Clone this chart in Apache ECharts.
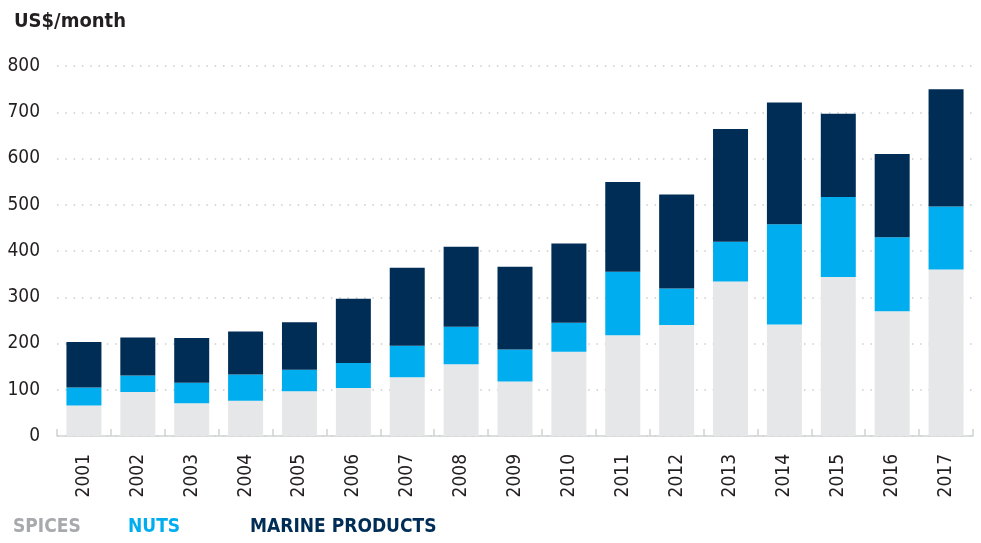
<!DOCTYPE html>
<html>
<head>
<meta charset="utf-8">
<script src="https://cdn.jsdelivr.net/npm/echarts@6/dist/echarts.min.js"></script>
<style>
html,body{margin:0;padding:0;background:#fff;}
#chart{width:981px;height:543px;}
</style>
</head>
<body>
<div id="chart"></div>
<script>
const years = ['2001','2002','2003','2004','2005','2006','2007','2008','2009','2010','2011','2012','2013','2014','2015','2016','2017'];
const spices = [66, 95, 71, 76, 97, 104, 127, 155, 118, 182, 218, 240, 334, 241, 344, 270, 360];
const nuts = [39, 36, 44, 57, 46, 54, 68, 81, 69, 63, 137, 79, 86, 217, 173, 160, 136];
const marine = [98, 82, 97, 93, 103, 139, 169, 173, 179, 171, 194, 203, 244, 263, 180, 180, 254];
const yTicks = [0, 100, 200, 300, 400, 500, 600, 700, 800];

const FONT = "'Liberation Sans Narrow', 'DejaVu Sans Condensed', 'Liberation Sans', sans-serif";
const C_SPICE = '#e6e7e8', C_NUTS = '#00aeef', C_MARINE = '#002d56';

const chart = echarts.init(document.getElementById('chart'));
function legendFor(name, color, left) {
  return {
    left: left, top: 518, orient: 'horizontal',
    data: [{name: name, icon: 'none'}],
    itemWidth: 0, itemHeight: 0, itemGap: 0, padding: 0,
    selectedMode: false,
    textStyle: {color: color, fontFamily: FONT, fontWeight: 'bold', fontSize: 19, padding: 0}
  };
}
chart.setOption({
  animation: false,
  title: {
    text: 'US$/month', left: 9, top: 7,
    textStyle: {fontFamily: FONT, fontWeight: 'bold', fontSize: 20, color: '#231f20'}
  },
  legend: [
    legendFor('SPICES', '#a7a9ac', 8),
    legendFor('NUTS', C_NUTS, 123),
    legendFor('MARINE PRODUCTS', C_MARINE, 245)
  ],
  grid: {left: 57, right: 8, top: 66, bottom: 107, containLabel: false},
  xAxis: {
    type: 'category', data: years,
    axisLine: {lineStyle: {color: '#d1d3d4', width: 1.5}},
    axisTick: {show: true, inside: true, length: 7, lineStyle: {color: '#d1d3d4', width: 1.5}},
    axisLabel: {rotate: 90, margin: 18, fontFamily: FONT, fontSize: 19, color: '#231f20'}
  },
  yAxis: {
    type: 'value', min: yTicks[0], max: yTicks[yTicks.length - 1], interval: 100,
    axisLine: {show: false}, axisTick: {show: false},
    axisLabel: {margin: 17, fontFamily: FONT, fontSize: 19, color: '#231f20',
      formatter: v => yTicks.includes(v) ? String(v) : ''},
    splitLine: {show: true, lineStyle: {color: '#c9cbcd', type: [1.5, 6.8], width: 1.5}}
  },
  series: [
    {name: 'SPICES', type: 'bar', stack: 't', data: spices, barWidth: 35, itemStyle: {color: C_SPICE}},
    {name: 'NUTS', type: 'bar', stack: 't', data: nuts, barWidth: 35, itemStyle: {color: C_NUTS}},
    {name: 'MARINE PRODUCTS', type: 'bar', stack: 't', data: marine, barWidth: 35, itemStyle: {color: C_MARINE}}
  ]
});
</script>
</body>
</html>
